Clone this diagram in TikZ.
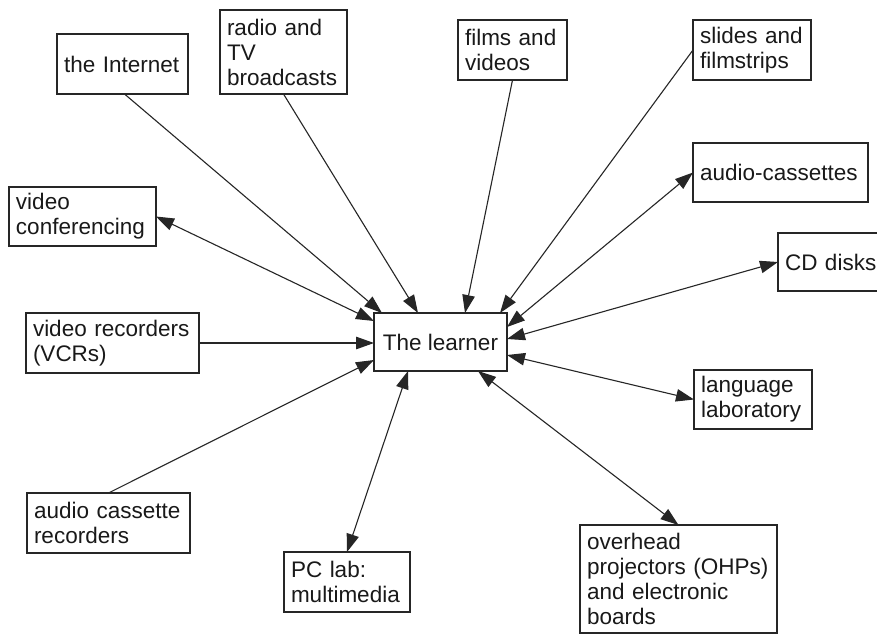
\documentclass[tikz,border=0pt]{standalone}
\usepackage{fontspec}
\setmainfont{Liberation Sans}
\usetikzlibrary{arrows.meta,calc}
\begin{document}
\begin{tikzpicture}[x=1pt,y=-1pt,
  box/.style={draw=black!85, line width=1.1pt, outer sep=0pt, inner xsep=7pt, inner ysep=3pt,
    font=\fontsize{22.5}{25}\selectfont, align=left, text=black!90},
  link/.style={draw=black!85, line width=1.1pt, -{Triangle[length=18pt,width=12.5pt]}},
  both/.style={draw=black!85, line width=1.1pt, {Triangle[length=18pt,width=12.5pt]}-{Triangle[length=18pt,width=12.5pt]}}]
\clip (0,0) rectangle (877,635);
\fill[white] (0,0) rectangle (877,635);
% boxes
\node[box, minimum width=133pt, minimum height=58pt, align=center] (L) at (440.5,342) {The learner};
\node[box, text width=117pt, minimum height=60pt] (I) at (122.5,64) {the Internet};
\node[box, text width=113pt, minimum height=84pt] (R) at (283.5,52) {radio and\\TV\\broadcasts};
\node[box, text width=95pt, minimum height=60pt] (F) at (512.5,50) {films and\\videos};
\node[box, text width=104pt, minimum height=60pt] (S) at (752,50) {slides and\\filmstrips};
\node[box, text width=161pt, minimum height=59pt] (AC) at (780.5,172.5) {audio-cassettes};
\node[box, text width=98pt, minimum height=58pt] (CD) at (834,262) {CD disks};
\node[box, text width=104pt, minimum height=59pt] (LL) at (753,399.5) {language\\laboratory};
\node[box, text width=183pt, minimum height=108pt] (OHP) at (678.5,579) {overhead\\projectors (OHPs)\\and electronic\\boards};
\node[box, text width=112pt, minimum height=60pt] (PC) at (347,582) {PC lab:\\multimedia};
\node[box, text width=149pt, minimum height=60pt] (ACR) at (108.5,523) {audio cassette\\recorders};
\node[box, text width=159pt, minimum height=60pt] (VCR) at (112.5,343) {video recorders\\(VCRs)};
\node[box, text width=133pt, minimum height=59pt] (VC) at (82.5,216.5) {video\\conferencing};
% end points on the learner box
\coordinate (Li) at ($(L.north west)+(8,0)$);
\coordinate (Lr) at ($(L.north west)+(44,0)$);
\coordinate (Lf) at ($(L.north west)+(91,0)$);
\coordinate (Ls) at ($(L.north west)+(126,0)$);
\coordinate (Lvc) at ($(L.north west)+(0,8)$);
\coordinate (Lvcr) at ($(L.north west)+(0,30)$);
\coordinate (Lacr) at ($(L.north west)+(0,47)$);
\coordinate (Lac) at ($(L.north east)+(0,14)$);
\coordinate (Lcd) at ($(L.north east)+(0,26)$);
\coordinate (Lll) at ($(L.north east)+(0,42)$);
\coordinate (Lpc) at ($(L.south west)+(34,0)$);
\coordinate (Lohp) at ($(L.south west)+(104,0)$);
% connectors
\draw[link] ($(I.south)+(2,0)$) -- (Li);
\draw[link] (R.south) -- (Lr);
\draw[link] (F.south) -- (Lf);
\draw[link] (S.west) -- (Ls);
\draw[both] (VC.east) -- (Lvc);
\draw[link] (VCR.east) -- (Lvcr);
\draw[link] (ACR.north) -- (Lacr);
\draw[both] (AC.west) -- (Lac);
\draw[both] (CD.west) -- (Lcd);
\draw[both] (LL.west) -- (Lll);
\draw[both] (PC.north) -- (Lpc);
\draw[both] (OHP.north) -- (Lohp);
\end{tikzpicture}
\end{document}
